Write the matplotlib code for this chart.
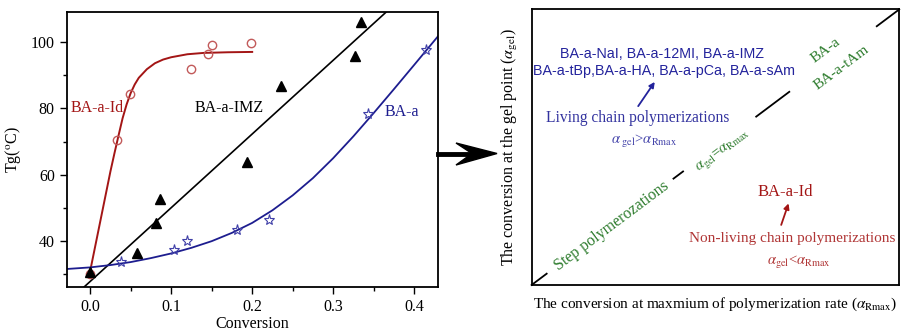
import numpy as np
import matplotlib
matplotlib.use("Agg")
import matplotlib.pyplot as plt
from matplotlib.patches import Polygon

# left panel: Tg vs conversion
id_x = [0.0, 0.0337, 0.0486, 0.124, 0.146, 0.1506, 0.199]
id_y = [30.1, 70.5, 84.4, 92.0, 96.4, 99.1, 99.6]
imz_x = [0.0, 0.0576, 0.0815, 0.0864, 0.1934, 0.2358, 0.327, 0.3337]
imz_y = [30.8, 36.4, 45.4, 52.8, 63.7, 86.6, 95.8, 106.1]
baa_x = [0.0379, 0.1037, 0.1193, 0.1815, 0.2206, 0.3432, 0.414]
baa_y = [33.7, 37.2, 40.0, 43.4, 46.4, 78.3, 97.6]

# fitted curves
id_fit_x = [0.0, 0.005, 0.01, 0.015, 0.02, 0.025, 0.03, 0.035, 0.04, 0.045, 0.05,
            0.055, 0.06, 0.07, 0.08, 0.09, 0.1, 0.12, 0.14, 0.17, 0.2]
id_fit_y = [31.0, 37.0, 43.0, 49.0, 55.0, 61.0, 66.5, 71.8, 77.0, 81.2, 84.6,
            87.2, 89.2, 91.8, 93.6, 94.7, 95.4, 96.3, 96.7, 96.9, 97.0]
imz_fit_x = [-0.03, 0.45]
imz_fit_y = [21.2, 127.8]
baa_fit_x = [-0.03, 0.0, 0.025, 0.05, 0.075, 0.1, 0.125, 0.15, 0.175, 0.2, 0.225,
             0.25, 0.275, 0.3, 0.325, 0.35, 0.375, 0.4, 0.43]
baa_fit_y = [31.6, 32.1, 32.8, 33.7, 34.9, 36.3, 38.0, 40.0, 42.5, 45.5, 49.3,
             53.8, 59.0, 65.0, 71.6, 78.6, 85.8, 93.1, 101.9]

# right panel: diagonal pieces (fraction along the diagonal)
diag_pieces = [(0.0, 0.041), (0.386, 0.412), (0.611, 0.701), (0.939, 1.0)]

RED = "#a31515"
RED_PT = "#c25a5a"
BLUE = "#1d1d8f"
BLUE_TXT = "#23239c"
GREEN = "#2f7d2f"


def main():
    plt.rcParams["font.family"] = ["Liberation Serif", "DejaVu Serif"]
    plt.rcParams["mathtext.fontset"] = "stix"
    fig = plt.figure(figsize=(9.01, 3.32), dpi=100)

    ax = fig.add_axes([0.074, 0.1346, 0.4118, 0.830])
    ax.plot(id_fit_x, id_fit_y, color=RED, lw=1.4)
    ax.plot(imz_fit_x, imz_fit_y, color="black", lw=1.2)
    ax.plot(baa_fit_x, baa_fit_y, color=BLUE, lw=1.3)
    ax.plot(id_x, id_y, "o", mfc="none", mec=RED_PT, ms=6, mew=1.0)
    ax.plot(imz_x, imz_y, "^", color="black", ms=6.5)
    ax.plot(baa_x, baa_y, "*", mfc="none", mec="#4040a8", ms=8, mew=0.8)
    ax.set_xlim(-0.029, 0.429)
    ax.set_ylim(26.1, 109.1)
    ax.set_xticks([0.0, 0.1, 0.2, 0.3, 0.4])
    ax.set_xticks(np.arange(0.05, 0.45, 0.1), minor=True)
    ax.set_yticks([40, 60, 80, 100])
    ax.set_yticks([30, 50, 70, 90], minor=True)
    ax.tick_params(which="major", length=5, width=1.0, labelsize=11.5, direction="out")
    ax.tick_params(which="minor", length=3, width=1.0, direction="out")
    for s in ax.spines.values():
        s.set_linewidth(1.3)
    ax.set_xlabel("Conversion", fontsize=11.5, labelpad=0.5)
    ax.set_ylabel(r"Tg($^{\rm o}$C)", fontsize=11.5, labelpad=6)
    ax.text(0.0083, 80, "BA-a-Id", color=RED, fontsize=11.5, ha="center", va="center")
    ax.text(0.1717, 80, "BA-a-IMZ", color="black", fontsize=11.5, ha="center", va="center")
    ax.text(0.385, 79.0, "BA-a", color=BLUE, fontsize=11.5, ha="center", va="center")

    # right panel, schematic
    ax2 = fig.add_axes([0.590, 0.1416, 0.408, 0.830])
    ax2.set_xlim(0, 1)
    ax2.set_ylim(0, 1)
    ax2.set_xticks([])
    ax2.set_yticks([])
    for s in ax2.spines.values():
        s.set_linewidth(1.3)
    for a, b in diag_pieces:
        ax2.plot([a, b], [a, b], color="black", lw=1.3, clip_on=False)
    ang = 36.8
    ax2.text(0.219, 0.214, "Step polymerozations", color=GREEN, fontsize=11.5,
             rotation=ang, ha="center", va="center")
    ax2.text(0.520, 0.488, r"$\alpha_{\rm gel}$=$\alpha_{\rm Rmax}$", color=GREEN,
             fontsize=10.5, rotation=ang, ha="center", va="center")
    ax2.text(0.801, 0.852, "BA-a", color=GREEN, fontsize=11, rotation=ang,
             ha="center", va="center")
    ax2.text(0.842, 0.790, "BA-a-tAm", color=GREEN, fontsize=11, rotation=ang,
             ha="center", va="center")

    ax2.text(0.355, 0.840, "BA-a-NaI, BA-a-12MI, BA-a-IMZ", color=BLUE_TXT,
             fontsize=10.3, family="Liberation Sans", ha="center", va="center")
    ax2.text(0.360, 0.776, "BA-a-tBp,BA-a-HA, BA-a-pCa, BA-a-sAm", color=BLUE_TXT,
             fontsize=10.3, family="Liberation Sans", ha="center", va="center")
    ax2.annotate("", xy=(0.335, 0.737), xytext=(0.290, 0.649),
                 arrowprops=dict(arrowstyle="-|>", color=BLUE_TXT, lw=1.3,
                                 mutation_scale=8, shrinkA=0, shrinkB=0))
    ax2.text(0.289, 0.607, "Living chain polymerizations", color="#33339f",
             fontsize=11.2, ha="center", va="center")
    ax2.text(0.305, 0.526, r"$\alpha_{\rm \ gel}$>$\alpha_{\rm Rmax}$", color="#4444aa",
             fontsize=10.5, ha="center", va="center")

    ax2.text(0.690, 0.336, "BA-a-Id", color=RED, fontsize=12, ha="center", va="center")
    ax2.annotate("", xy=(0.699, 0.296), xytext=(0.679, 0.218),
                 arrowprops=dict(arrowstyle="-|>", color=RED, lw=1.3,
                                 mutation_scale=8, shrinkA=0, shrinkB=0))
    ax2.text(0.709, 0.169, "Non-living chain polymerizations", color="#b03535",
             fontsize=11, ha="center", va="center")
    ax2.text(0.727, 0.087, r"$\alpha_{\rm gel}$<$\alpha_{\rm Rmax}$", color="#b03535",
             fontsize=10.5, ha="center", va="center")

    ax2.set_ylabel(r"The conversion at the gel point ($\alpha_{\rm gel}$)", fontsize=11.5,
                   labelpad=8)
    ax2.set_xlabel(r"The conversion at maxmium of polymerization rate ($\alpha_{\rm Rmax}$)",
                   fontsize=11, labelpad=8)

    # big arrow between the panels (figure pixels -> fraction)
    W, H = 901.0, 332.0
    fx = lambda px: px / W
    fy = lambda py: 1 - py / H
    fig.add_artist(plt.Line2D([fx(438), fx(478)], [fy(153.5), fy(153.5)],
                              color="black", lw=3.5))
    head = [(fx(497), fy(153.5)), (fx(456), fy(143)), (fx(472), fy(153.5)),
            (fx(456), fy(165))]
    fig.add_artist(Polygon(head, closed=True, color="black", transform=fig.transFigure))

    fig.savefig("out.png", dpi=100)
    return 0


if __name__ == "__main__":
    main()
